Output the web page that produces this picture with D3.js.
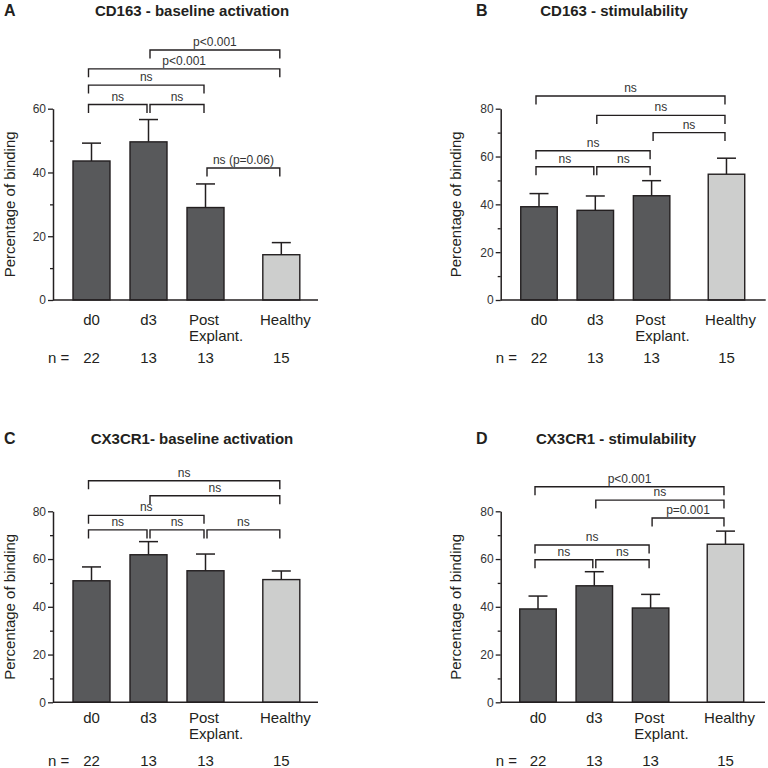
<!DOCTYPE html>
<html>
<head>
<meta charset="utf-8">
<script src="https://cdn.jsdelivr.net/npm/d3@7"></script>
<style>
  body { margin: 0; background: #fff; }
  svg { display: block; font-family: "Liberation Sans", Arial, sans-serif; }
</style>
</head>
<body>
<svg id="chart" width="768" height="768"></svg>
<script>
// ---------- DATA ----------
const categories = ["d0", "d3", "Post Explant.", "Healthy"];
const nCounts = [22, 13, 13, 15];
const panelLetters = ["A", "B", "C", "D"];
const panelTitles = ["CD163 - baseline activation", "CD163 - stimulability", "CX3CR1- baseline activation", "CX3CR1 - stimulability"];
const yMaxima = [60, 80, 80, 80];
const yTickStep = [20, 20, 20, 20];

const cd163BaselineMean = [43.6, 49.6, 29.0, 14.2];
const cd163BaselineErr  = [5.6, 7.0, 7.4, 3.8];
const cd163StimMean     = [39.0, 37.5, 43.6, 52.6];
const cd163StimErr      = [5.5, 6.0, 6.3, 6.7];
const cx3cr1BaselineMean = [50.9, 61.8, 55.1, 51.4];
const cx3cr1BaselineErr  = [5.8, 5.5, 7.0, 3.6];
const cx3cr1StimMean     = [39.1, 48.8, 39.5, 66.2];
const cx3cr1StimErr      = [5.4, 5.9, 5.7, 5.5];

// brackets: [from index, to index, level (data units), label]
const cd163BaselineBrackets = [
  [0, 1, 61.3, "ns"], [1, 2, 61.3, "ns"], [0, 2, 67.4, "ns"],
  [0, 3, 72.5, "p<0.001"], [1, 3, 78.4, "p<0.001"], [2, 3, 41.4, "ns (p=0.06)"]
];
const cd163StimBrackets = [
  [0, 1, 55.7, "ns"], [1, 2, 55.7, "ns"], [0, 2, 62.4, "ns"],
  [2, 3, 70.0, "ns"], [1, 3, 77.2, "ns"], [0, 3, 85.3, "ns"]
];
const cx3cr1BaselineBrackets = [
  [0, 1, 72.2, "ns"], [1, 2, 72.2, "ns"], [2, 3, 72.2, "ns"],
  [0, 2, 78.3, "ns"], [1, 3, 86.5, "ns"], [0, 3, 92.8, "ns"]
];
const cx3cr1StimBrackets = [
  [0, 1, 59.7, "ns"], [1, 2, 59.7, "ns"], [0, 2, 65.9, "ns"],
  [2, 3, 77.2, "p=0.001"], [1, 3, 84.7, "ns"], [0, 3, 90.3, "p<0.001"]
];

const panelMeans = [cd163BaselineMean, cd163StimMean, cx3cr1BaselineMean, cx3cr1StimMean];
const panelErrs = [cd163BaselineErr, cd163StimErr, cx3cr1BaselineErr, cx3cr1StimErr];
const panelBrackets = [cd163BaselineBrackets, cd163StimBrackets, cx3cr1BaselineBrackets, cx3cr1StimBrackets];

// ---------- LAYOUT ----------
const layouts = [
  { ax: 53,    xEnd: 318,   y0: 300,   yTop: 108.7, c0: 91.5, step: 57,   barW: 37,   titleX: 192, titleY: 15.5, letterX: 4,   catDy: 25, yTitleX: 9.5 },
  { ax: 500.7, xEnd: 765.7, y0: 300,   yTop: 108.7, c0: 539,  step: 56.3, barW: 36.5, titleX: 614, titleY: 15.5, letterX: 476, catDy: 25, yTitleX: 455.7 },
  { ax: 53,    xEnd: 318,   y0: 702.3, yTop: 511.3, c0: 91.5, step: 57,   barW: 37,   titleX: 192, titleY: 443.5, letterX: 4,  catDy: 21, yTitleX: 9.5 },
  { ax: 500.7, xEnd: 765,   y0: 702.3, yTop: 511.3, c0: 538,  step: 56.3, barW: 36.5, titleX: 616, titleY: 443.5, letterX: 476, catDy: 21, yTitleX: 455.7 }
];
const healthySlot = 3.33;
const darkFill = "#58595b", lightFill = "#cdcecd", ink = "#231f20";

const svg = d3.select("#chart");

panelMeans.forEach((means, p) => {
  const L = layouts[p];
  const errs = panelErrs[p];
  const g = svg.append("g");

  const y = d3.scaleLinear().domain([0, yMaxima[p]]).range([L.y0, L.yTop]);
  const slot = d3.scaleLinear().domain([0, 1]).range([L.c0, L.c0 + L.step]);
  const slotIndex = i => (i === 3 ? healthySlot : i);
  const cx = i => slot(slotIndex(i));

  // title + letter
  g.append("text").attr("x", L.letterX).attr("y", L.titleY)
    .attr("font-size", 16).attr("font-weight", "bold").attr("fill", ink).text(panelLetters[p]);
  g.append("text").attr("x", L.titleX).attr("y", L.titleY).attr("text-anchor", "middle")
    .attr("font-size", 15).attr("font-weight", "bold").attr("fill", ink).text(panelTitles[p]);

  // y axis major
  const majorTicks = d3.range(0, yMaxima[p] + 0.001, yTickStep[p]);
  const minorTicks = d3.range(yTickStep[p] / 2, yMaxima[p], yTickStep[p]);
  const yAxis = d3.axisLeft(y).tickValues(majorTicks).tickSize(5).tickSizeOuter(0).tickPadding(2).tickFormat(d3.format("d"));
  const ya = g.append("g").attr("transform", `translate(${L.ax},0)`).call(yAxis);
  ya.select(".domain").attr("stroke", ink).attr("stroke-width", 1.5);
  ya.selectAll(".tick line").attr("stroke", ink).attr("stroke-width", 1.3);
  ya.selectAll(".tick text").attr("font-size", 12).attr("fill", "#333").attr("font-family", "Liberation Sans, Arial, sans-serif");
  const yMinor = d3.axisLeft(y).tickValues(minorTicks).tickSize(3).tickSizeOuter(0).tickFormat("");
  const ym = g.append("g").attr("transform", `translate(${L.ax},0)`).call(yMinor);
  ym.select(".domain").remove();
  ym.selectAll(".tick line").attr("stroke", ink).attr("stroke-width", 1.3);

  // y title
  g.append("text")
    .attr("transform", `translate(${L.yTitleX},${(L.y0 + L.yTop) / 2}) rotate(-90)`)
    .attr("text-anchor", "middle").attr("dominant-baseline", "central")
    .attr("font-size", 15).attr("fill", ink).text("Percentage of binding");

  // error bars (upper only)
  const capW = 19;
  means.forEach((m, i) => {
    g.append("line").attr("x1", cx(i)).attr("x2", cx(i)).attr("y1", y(m)).attr("y2", y(m + errs[i]))
      .attr("stroke", ink).attr("stroke-width", 1.5);
    g.append("line").attr("x1", cx(i) - capW / 2).attr("x2", cx(i) + capW / 2)
      .attr("y1", y(m + errs[i])).attr("y2", y(m + errs[i]))
      .attr("stroke", ink).attr("stroke-width", 1.5);
  });

  // bars
  g.selectAll("rect.bar").data(means).enter().append("rect").attr("class", "bar")
    .attr("x", (d, i) => cx(i) - L.barW / 2)
    .attr("y", d => y(d))
    .attr("width", L.barW)
    .attr("height", d => y(0) - y(d))
    .attr("fill", (d, i) => i === 3 ? lightFill : darkFill)
    .attr("stroke", ink).attr("stroke-width", 1.4);

  // x axis line
  g.append("line").attr("x1", L.ax).attr("x2", L.xEnd).attr("y1", y(0)).attr("y2", y(0))
    .attr("stroke", ink).attr("stroke-width", 1.5);

  // category labels
  categories.forEach((c, i) => {
    const yy = y(0) + L.catDy;
    if (c.indexOf(" ") > 0 && i === 2) {
      const parts = c.split(" ");
      const x0 = cx(i) - L.barW / 2 + 2;
      parts.forEach((pt, k) => {
        g.append("text").attr("x", x0).attr("y", yy + k * 15.5)
          .attr("font-size", 15).attr("fill", ink).text(pt);
      });
    } else {
      g.append("text").attr("x", cx(i) + (i === 3 ? 4 : 0)).attr("y", yy).attr("text-anchor", "middle")
        .attr("font-size", 15).attr("fill", ink).text(c);
    }
  });

  // n row
  const nY = y(0) + 63.3;
  g.append("text").attr("x", L.ax - 5).attr("y", nY).attr("font-size", 15).attr("fill", ink).text("n =");
  nCounts.forEach((n, i) => {
    g.append("text").attr("x", cx(i)).attr("y", nY).attr("text-anchor", "middle")
      .attr("font-size", 15).attr("fill", ink).text(n);
  });

  // brackets
  const drop = 8.5;
  panelBrackets[p].forEach(([a, b, lvl, label]) => {
    const x1 = cx(a) + (a > 0 ? 1.5 : -3);
    const x2 = cx(b) - 1.5;
    const yy = y(lvl);
    g.append("path")
      .attr("d", `M${x1},${yy + drop}V${yy}H${x2}V${yy + drop}`)
      .attr("fill", "none").attr("stroke", ink).attr("stroke-width", 1.4);
    g.append("text").attr("x", (x1 + x2) / 2).attr("y", yy - 4).attr("text-anchor", "middle")
      .attr("font-size", 12).attr("fill", "#333").text(label);
  });
});
</script>
</body>
</html>
